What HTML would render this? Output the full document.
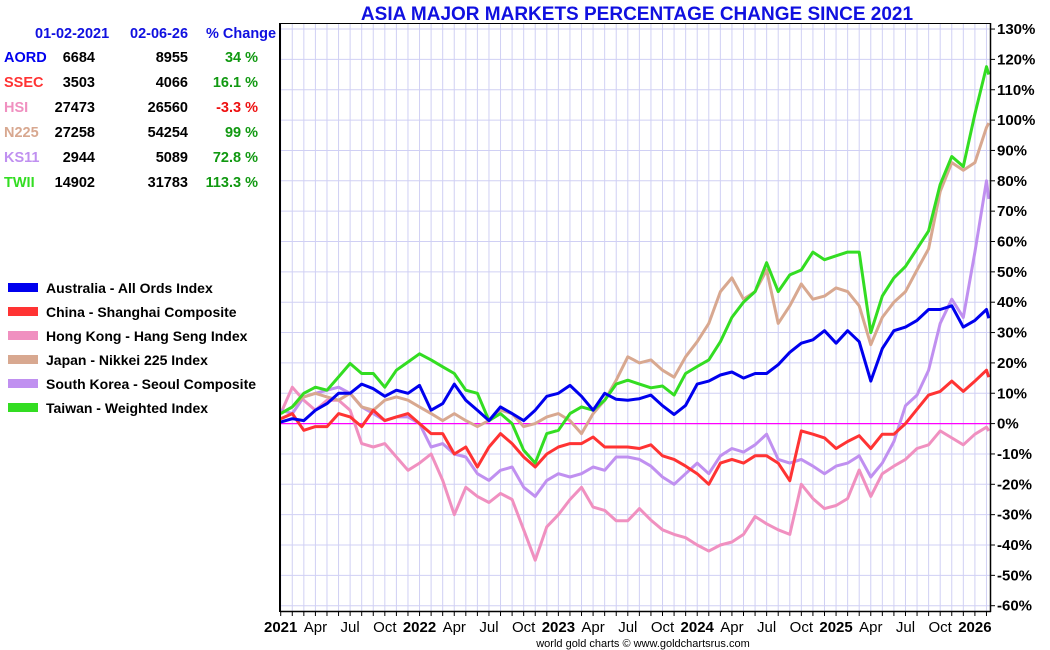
<!DOCTYPE html>
<html><head><meta charset="utf-8">
<style>
body{margin:0;background:#fff;width:1050px;height:650px;overflow:hidden;font-family:"Liberation Sans",Arial,sans-serif;}
svg{position:absolute;left:0;top:0}
</style></head>
<body>
<svg id="chart" width="1050" height="650" xmlns="http://www.w3.org/2000/svg">
<text x="637" y="20" text-anchor="middle" font-size="19" font-weight="bold" fill="#1010e0">ASIA MAJOR MARKETS PERCENTAGE CHANGE SINCE 2021</text>
<g id="grid"></g>
<g id="series"></g>
<g id="axes"></g>
<g id="table" font-size="14.5" font-weight="bold">
<text x="35" y="38" fill="#1010e0">01-02-2021</text>
<text x="130" y="38" fill="#1010e0">02-06-26</text>
<text x="206" y="38" fill="#1010e0">% Change</text>
</g>
<g id="legend"></g>
<text x="643" y="647" text-anchor="middle" font-size="11" fill="#000">world gold charts © www.goldchartsrus.com</text>
</svg>
<script>
const seriesNames = ["AORD","SSEC","HSI","N225","KS11","TWII"];
const legendLabels = ["Australia - All Ords Index","China - Shanghai Composite","Hong Kong - Hang Seng Index","Japan - Nikkei 225 Index","South Korea - Seoul Composite","Taiwan - Weighted Index"];
const startVals = ["6684","3503","27473","27258","2944","14902"];
const endVals = ["8955","4066","26560","54254","5089","31783"];
const pctVals = ["34 %","16.1 %","-3.3 %","99 %","72.8 %","113.3 %"];
const colors = ["#0000ee","#ff3333","#f090c0","#d8a890","#c090f0","#33dd22"];
// month index (0 = Jan 2021) of each point; last point = Feb 6 2026
const months = [0,1,2,3,4,5,6,7,8,9,10,11,12,13,14,15,16,17,18,19,20,21,22,23,24,25,26,27,28,29,30,31,32,33,34,35,36,37,38,39,40,41,42,43,44,45,46,47,48,49,50,51,52,53,54,55,56,57,58,59,60,61,61.2];
const aord = [0.5,1.6,1,4.4,6.6,10,10,13,11.5,9,11,10,12.6,4.4,6.6,13,7.7,4.4,1,5.5,3.3,1,4.4,9,10,12.6,9,4.4,10,8,7.7,8.2,9.4,5.9,3,6,13,14,16,17,15,16.5,16.5,19.4,23.5,26.5,27.6,30.6,26.5,30.6,27,14,24.7,30.6,31.8,34,37.6,37.6,38.8,31.8,34,37.6,34.7];
const ssec = [1.6,3.3,-2.2,-1,-1,3.3,2.2,-1,4.4,1,2.2,3.3,0,-3.3,-3.3,-10,-7.7,-14.3,-7.7,-3.3,-6.6,-11,-14.3,-10,-7.7,-6.6,-6.6,-4.4,-7.7,-7.7,-7.7,-8.2,-7,-10.6,-11.8,-14,-16.5,-20,-13,-11.8,-13,-10.6,-10.6,-13,-18.8,-2.4,-3.5,-4.7,-8.2,-5.9,-4,-8.2,-3.5,-3.5,0,4.7,9.4,10.6,14,10.6,14,17.6,15.3];
const hsi = [3.3,12,7.7,4.4,7.7,7.7,4.4,-6.6,-7.7,-6.6,-11,-15.4,-13,-10,-18.7,-30,-21,-24,-26,-23,-25,-35,-45,-34,-30,-25,-21,-27.5,-28.6,-32,-32,-28,-31.8,-35,-36.5,-37.6,-40,-42,-40,-39,-36.5,-30.6,-33,-35,-36.5,-20,-24.7,-28,-27,-24.7,-15.3,-24,-16.5,-14,-11.8,-8.2,-7,-2.4,-4.7,-7,-3.5,-1.2,-2.4];
const n225 = [3.3,5.5,8.8,10,8.8,7.7,10,5.5,4.4,7.7,8.8,7.7,5.5,3.3,1,3.3,1,-1,1,4.4,3.3,-1,0,2.2,3.3,1,-3.3,3.3,7.7,14.3,22,20,21,17.6,15.3,22,27,33,43.5,48,41,43.5,50.6,33,38.8,46,41,42,44.7,43.5,38.8,26,35,40,43.5,50.6,57.6,76.5,86,83.5,86,97.6,99];
const ks11 = [4.4,3.3,8.8,10,11,12,10,5.5,3.3,1,2.2,2.2,0,-7.7,-6.6,-10,-11,-16.5,-18.7,-15.4,-14.3,-21,-24,-18.7,-16.5,-17.6,-16.5,-14.3,-15.4,-11,-11,-11.8,-14,-17.6,-20,-16.5,-13,-16.5,-10.6,-8.2,-9.4,-7,-3.5,-11.8,-13,-11.8,-14,-16.5,-14,-13,-10.6,-17.6,-13,-5.9,5.9,9.4,17.6,33,41,35,56.5,80,74];
const twii = [3.3,5.5,10,12,11,15.4,19.8,16.5,16.5,12,17.6,20.3,23,21,18.7,16.5,11,10,1,3.3,0,-8.8,-13,-3.3,-2.2,3.3,5.5,4.4,7.7,13,14.3,13,11.8,12.4,9.4,16.5,18.8,21,27,35,40,43.5,53,43.5,49,50.6,56.5,54,55.3,56.5,56.5,30,42,48,51.8,57.6,63.5,78.8,88,84.7,102,117.6,115];
const yTicks = [130,120,110,100,90,80,70,60,50,40,30,20,10,0,-10,-20,-30,-40,-50,-60];
const xLabels = ["2021","Apr","Jul","Oct","2022","Apr","Jul","Oct","2023","Apr","Jul","Oct","2024","Apr","Jul","Oct","2025","Apr","Jul","Oct","2026"];

const NS="http://www.w3.org/2000/svg";
const X0=280.7, MW=11.57, Y0=423.6, PY=3.035;
function xs(m){return X0+MW*m;}
function ys(p){return Y0-PY*p;}
function mk(tag,attrs,parent){const e=document.createElementNS(NS,tag);for(const k in attrs)e.setAttribute(k,attrs[k]);parent.appendChild(e);return e;}

const grid=document.getElementById('grid');
for(let m=0;m<=61;m++){
  const l=mk('line',{x1:xs(m),x2:xs(m),y1:24,y2:611,stroke:'#d0d0f4','stroke-width':1},grid);
  
  
}
yTicks.forEach(t=>{
  const l=mk('line',{x1:280,x2:990,y1:ys(t),y2:ys(t),stroke:'#d0d0f4','stroke-width':1},grid);
  
  
});
const zl=mk('line',{x1:280,x2:990,y1:ys(0),y2:ys(0),stroke:'#ff00ff','stroke-width':1.2},grid);



const data=[aord,ssec,hsi,n225,ks11,twii];
const order=[2,4,3,5,1,0];
const sg=document.getElementById('series');
order.forEach(i=>{
  const pts=data[i].map((v,k)=>xs(months[k]).toFixed(1)+','+ys(v).toFixed(1)).join(' ');
  const pl=mk('polyline',{points:pts,fill:'none',stroke:colors[i],'stroke-width':3,'stroke-linejoin':'round'},sg);
  
  
});

const ax=document.getElementById('axes');
const lb=mk('line',{x1:280,x2:280,y1:23,y2:612,stroke:'#000','stroke-width':2},ax);


const tb=mk('line',{x1:280,x2:991,y1:23.5,y2:23.5,stroke:'#000','stroke-width':1},ax);


const rb=mk('line',{x1:990.5,x2:990.5,y1:23,y2:612,stroke:'#000','stroke-width':1.5},ax);


const bb=mk('line',{x1:280,x2:991,y1:611.5,y2:611.5,stroke:'#000','stroke-width':1.5},ax);


yTicks.forEach(t=>{
  const tk=mk('line',{x1:990,x2:995,y1:ys(t),y2:ys(t),stroke:'#000','stroke-width':1},ax);
  
  
  const tx=mk('text',{x:997,y:ys(t)+5,'font-size':15,'font-weight':'bold',fill:'#000'},ax);
  tx.textContent=t+'%';
  
  
});
for(let m=0;m<=61;m++){
  const tk=mk('line',{x1:xs(m),x2:xs(m),y1:611,y2:616,stroke:'#000','stroke-width':1},ax);
  
  
}
xLabels.forEach((s,k)=>{
  const yr=/^\d/.test(s);
  const tx=mk('text',{x:xs(k*3),y:632,'text-anchor':'middle','font-size':15,'font-weight':yr?'bold':'normal',fill:'#000'},ax);
  tx.textContent=s;
  
  
});

const tg=document.getElementById('table');
seriesNames.forEach((n,i)=>{
  const y=62+25*i;
  const a=mk('text',{x:4,y:y,fill:colors[i]},tg);a.textContent=n;
  
  
  const b=mk('text',{x:95,y:y,'text-anchor':'end',fill:'#000'},tg);b.textContent=startVals[i];
  
  
  const c=mk('text',{x:188,y:y,'text-anchor':'end',fill:'#000'},tg);c.textContent=endVals[i];
  
  
  const d=mk('text',{x:258,y:y,'text-anchor':'end',fill:pctVals[i].startsWith('-')?'#ee1111':'#119911'},tg);d.textContent=pctVals[i];
  
  
});

const lg=document.getElementById('legend');
legendLabels.forEach((s,i)=>{
  const y=288+24*i;
  const r=mk('rect',{x:8,y:y-5,width:30,height:9,fill:colors[i]},lg);
  
  
  const t=mk('text',{x:46,y:y+5,'font-size':14,'font-weight':'bold',fill:'#000'},lg);
  t.textContent=s;
  
  
});
</script>
</body></html>
